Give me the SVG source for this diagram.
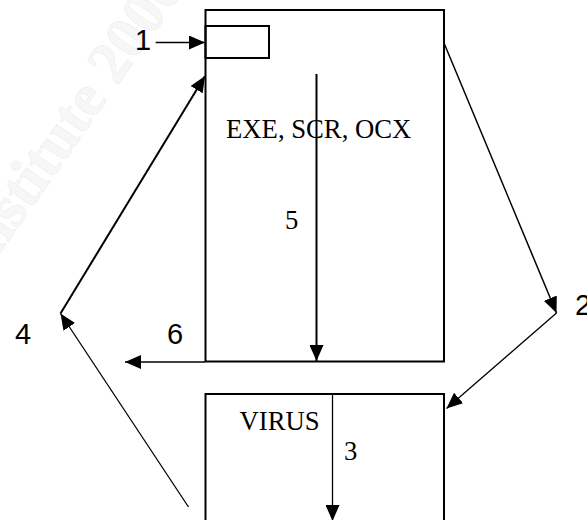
<svg xmlns="http://www.w3.org/2000/svg" width="587" height="520" viewBox="0 0 587 520">
  <style>
    .box { fill: none; stroke: #000; stroke-width: 2; }
    .conn { fill: none; stroke: #000; stroke-width: 1.3; }
    .thick { stroke-width: 2; }
    .num { font-family: "Liberation Sans", Arial, sans-serif; font-size: 29px; fill: #000; }
    .lbl { font-family: "Liberation Serif", "Times New Roman", serif; font-size: 26.7px; fill: #000; }
    .wm { font-family: "Liberation Serif", "Times New Roman", serif; font-weight: bold; font-size: 60px; fill: #f7f7f7; stroke: #efefef; stroke-width: 0.8; }
  </style>
  <defs>
    <marker id="ah" viewBox="0 0 16 14" refX="16" refY="7" markerWidth="16" markerHeight="14" orient="auto" markerUnits="userSpaceOnUse">
      <path d="M0,0 L16,7 L0,14 z" fill="#000"/>
    </marker>
  </defs>
  <rect width="587" height="520" fill="#fff"/>
  <text class="wm" transform="translate(-16,276) rotate(-55)">Institute 2000</text>

  <g id="program">
    <rect class="box" x="205.5" y="10" width="238.5" height="351.5"/>
    <text class="lbl" x="226" y="137.5">EXE, SCR, OCX</text>
  </g>
  <g id="entry">
    <rect class="box" x="205.5" y="26" width="63.5" height="32"/>
  </g>
  <g id="virus">
    <rect class="box" x="205.5" y="394" width="238.5" height="140"/>
    <text class="lbl" x="239.5" y="429.5">VIRUS</text>
  </g>

  <g id="connectors">
    <line class="conn" x1="155.7" y1="42.5" x2="205" y2="42.5" marker-end="url(#ah)"/>
    <line class="conn" style="stroke-width:1.5" x1="444" y1="43" x2="556.5" y2="313" marker-end="url(#ah)"/>
    <line class="conn" x1="556.5" y1="313" x2="446.5" y2="408.5" marker-end="url(#ah)"/>
    <line class="conn" x1="332.5" y1="394" x2="332.5" y2="521" marker-end="url(#ah)"/>
    <line class="conn" x1="188.5" y1="507" x2="60.5" y2="313.5" marker-end="url(#ah)"/>
    <line class="conn thick" x1="60.5" y1="313.5" x2="205" y2="76" marker-end="url(#ah)"/>
    <line class="conn thick" x1="316.5" y1="74" x2="316.5" y2="361" marker-end="url(#ah)"/>
    <line class="conn" x1="205" y1="362" x2="125" y2="362" marker-end="url(#ah)"/>
  </g>

  <g id="labels">
    <text class="num" x="135" y="50">1</text>
    <text class="num" x="575" y="315">2</text>
    <text class="lbl" x="344" y="459.5">3</text>
    <text class="num" x="15" y="344">4</text>
    <text class="lbl" x="285" y="228.5">5</text>
    <text class="num" x="167" y="344">6</text>
  </g>
</svg>
